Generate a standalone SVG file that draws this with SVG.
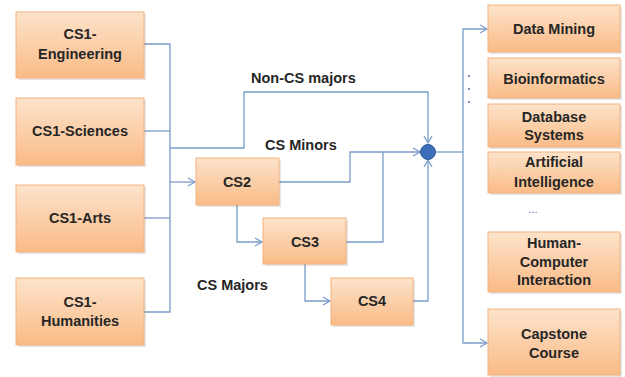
<svg xmlns="http://www.w3.org/2000/svg" width="625" height="377" viewBox="0 0 625 377">
<style>
.box{fill:url(#og);stroke:#f3b27e;stroke-width:1}
.shadow{fill:#000;opacity:0.1}
.t{font-family:"Liberation Sans",Arial,sans-serif;font-weight:bold;font-size:14.5px;fill:#262626;text-anchor:middle}
.lbl{font-family:"Liberation Sans",Arial,sans-serif;font-weight:bold;font-size:14.5px;fill:#262626}
.ln{fill:none;stroke:#7b9ccb;stroke-width:1.3}
.arr{marker-end:url(#ah)}
</style>
<defs>
<linearGradient id="og" x1="0" y1="0" x2="0" y2="1">
<stop offset="0" stop-color="#fde3cb"/>
<stop offset="1" stop-color="#f9bb86"/>
</linearGradient>
<marker id="ah" markerWidth="10" markerHeight="10" refX="8" refY="5" orient="auto" markerUnits="userSpaceOnUse">
<polyline points="1,1 8,5 1,9" fill="none" stroke="#7b9ccb" stroke-width="1.3"/>
</marker>
</defs>
<g id="connectors">
<path class="ln" d="M144,44 H170 V312 H144"/>
<path class="ln" d="M144,131 H170"/>
<path class="ln" d="M144,218 H170"/>
<path class="ln arr" d="M170,182 H195"/>
<path class="ln arr" d="M170,148 H244 V92 H428 V143"/>
<path class="ln arr" d="M279,182 H350 V152 H420"/>
<path class="ln" d="M346,242 H383 V152"/>
<path class="ln arr" d="M237,205 V242 H262"/>
<path class="ln arr" d="M305,264 V301 H330"/>
<path class="ln arr" d="M413,301 H428 V160"/>
<path class="ln" d="M436,152 H463"/>
<path class="ln arr" d="M463,152 V29 H487"/>
<path class="ln arr" d="M463,152 V343 H487"/>
</g>
<g id="merge">
<circle cx="428" cy="152" r="7.5" fill="#3d6fb8" stroke="#2f5a9a" stroke-width="1"/>
</g>
<g id="labels">
<text class="lbl" x="251" y="83">Non-CS majors</text>
<text class="lbl" x="265" y="150">CS Minors</text>
<text class="lbl" x="197" y="290">CS Majors</text>
<g fill="#4a6fa5"><circle cx="469" cy="76" r="1"/><circle cx="469" cy="89" r="1"/><circle cx="469" cy="102" r="1"/></g>
<text x="533" y="213" font-family="Liberation Sans,Arial,sans-serif" font-size="11" fill="#4a6fa5" text-anchor="middle">...</text>
</g>
<g id="cs1-engineering"><rect class="shadow" x="18" y="14" width="128" height="66"/><rect class="box" x="16" y="12" width="128" height="66"/><text class="t" x="80" y="39">CS1-</text><text class="t" x="80" y="59">Engineering</text></g>
<g id="cs1-sciences"><rect class="shadow" x="18" y="100" width="128" height="67"/><rect class="box" x="16" y="98" width="128" height="67"/><text class="t" x="80" y="136">CS1-Sciences</text></g>
<g id="cs1-arts"><rect class="shadow" x="18" y="187" width="128" height="67"/><rect class="box" x="16" y="185" width="128" height="67"/><text class="t" x="80" y="223">CS1-Arts</text></g>
<g id="cs1-humanities"><rect class="shadow" x="18" y="280" width="128" height="67"/><rect class="box" x="16" y="278" width="128" height="67"/><text class="t" x="80" y="307">CS1-</text><text class="t" x="80" y="326">Humanities</text></g>
<g id="cs2"><rect class="shadow" x="198" y="160" width="83" height="47"/><rect class="box" x="196" y="158" width="83" height="47"/><text class="t" x="237" y="187">CS2</text></g>
<g id="cs3"><rect class="shadow" x="265" y="220" width="83" height="46"/><rect class="box" x="263" y="218" width="83" height="46"/><text class="t" x="305" y="247">CS3</text></g>
<g id="cs4"><rect class="shadow" x="333" y="280" width="82" height="47"/><rect class="box" x="331" y="278" width="82" height="47"/><text class="t" x="372" y="306">CS4</text></g>
<g id="data-mining"><rect class="shadow" x="490" y="7" width="132" height="47"/><rect class="box" x="488" y="5" width="132" height="47"/><text class="t" x="554" y="34">Data Mining</text></g>
<g id="bioinformatics"><rect class="shadow" x="490" y="60" width="132" height="40"/><rect class="box" x="488" y="58" width="132" height="40"/><text class="t" x="554" y="84">Bioinformatics</text></g>
<g id="database-systems"><rect class="shadow" x="490" y="106" width="132" height="43"/><rect class="box" x="488" y="104" width="132" height="43"/><text class="t" x="554" y="122">Database</text><text class="t" x="554" y="140">Systems</text></g>
<g id="artificial-intelligence"><rect class="shadow" x="490" y="154" width="132" height="41"/><rect class="box" x="488" y="152" width="132" height="41"/><text class="t" x="554" y="167">Artificial</text><text class="t" x="554" y="187">Intelligence</text></g>
<g id="hci"><rect class="shadow" x="490" y="234" width="132" height="60"/><rect class="box" x="488" y="232" width="132" height="60"/><text class="t" x="554" y="248">Human-</text><text class="t" x="554" y="267">Computer</text><text class="t" x="554" y="285">Interaction</text></g>
<g id="capstone"><rect class="shadow" x="490" y="311" width="132" height="66"/><rect class="box" x="488" y="309" width="132" height="66"/><text class="t" x="554" y="339">Capstone</text><text class="t" x="554" y="358">Course</text></g>
</svg>
